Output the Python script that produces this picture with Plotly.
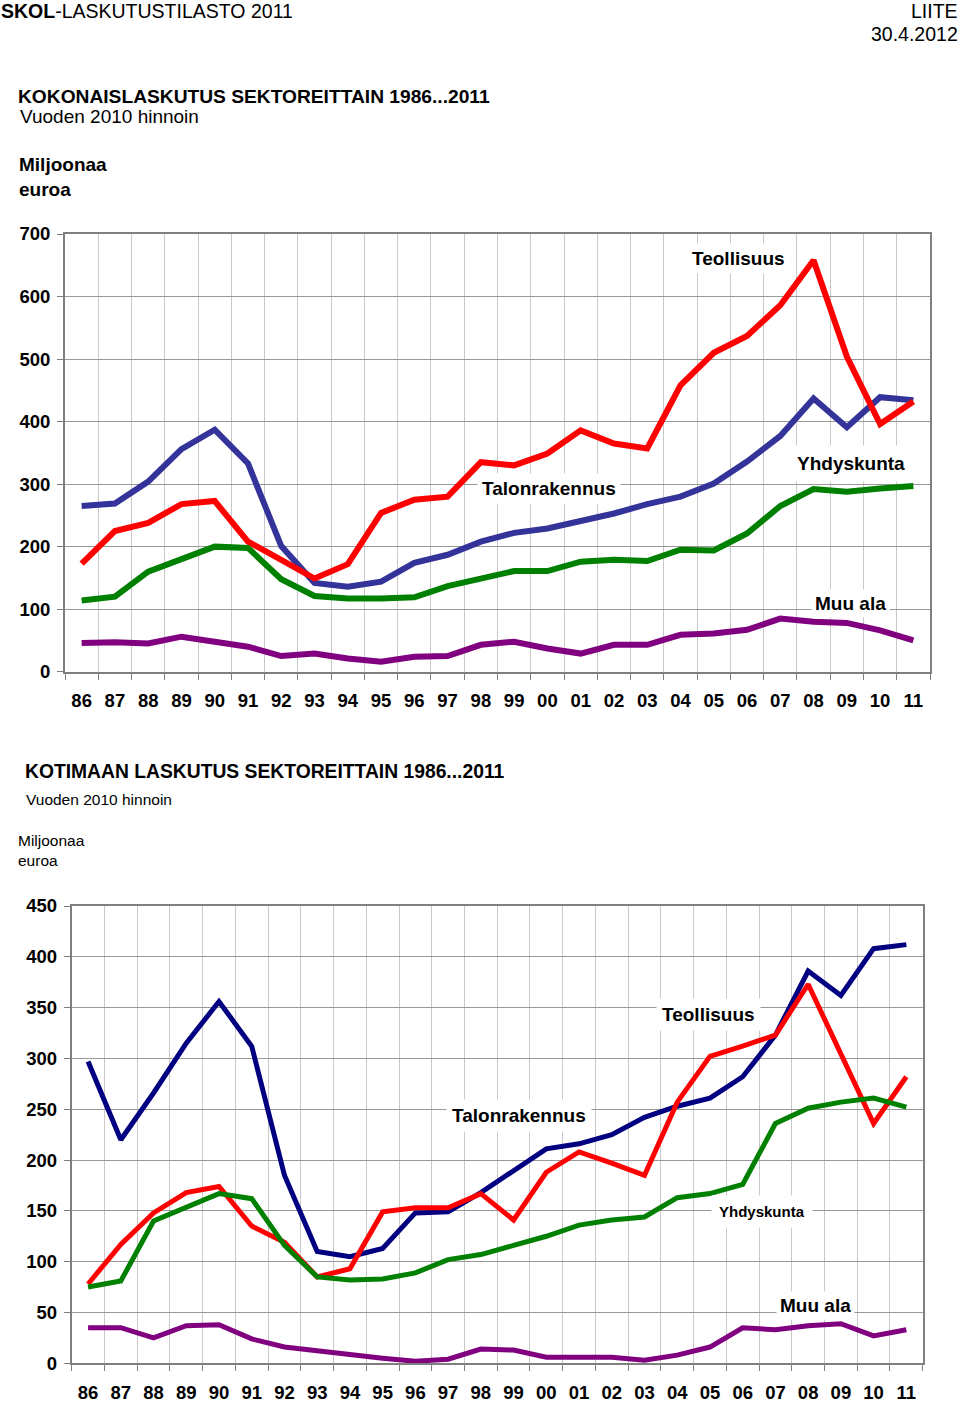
import plotly.graph_objects as go

years = ["86", "87", "88", "89", "90", "91", "92", "93", "94", "95", "96", "97", "98",
         "99", "00", "01", "02", "03", "04", "05", "06", "07", "08", "09", "10", "11"]

# Kokonaislaskutus (total)
tot_talon = [265, 269, 304, 356, 387, 333, 201, 142, 136, 144, 174, 187, 208,
             222, 229, 240, 253, 268, 280, 301, 336, 377, 437, 391, 439, 434]
tot_teoll = [173, 225, 238, 268, 273, 208, 179, 149, 172, 254, 275, 280, 335,
             330, 349, 386, 365, 357, 458, 510, 537, 586, 658, 504, 396, 432]
tot_yhdys = [114, 120, 160, 180, 200, 198, 148, 121, 117, 117, 119, 137, 149,
             161, 161, 176, 179, 177, 195, 194, 221, 265, 292, 288, 293, 297]
tot_muu = [46, 47, 45, 56, 48, 40, 25, 29, 21, 16, 24, 25, 43,
           48, 37, 29, 43, 43, 59, 61, 67, 85, 80, 78, 66, 50]

# Kotimaan laskutus (domestic)
dom_talon = [297, 220, 266, 315, 356, 312, 185, 110, 105, 113, 148, 149, 168,
             190, 211, 216, 225, 242, 253, 261, 282, 323, 386, 362, 408, 412]
dom_teoll = [78, 117, 148, 168, 174, 135, 119, 85, 93, 149, 153, 153, 167,
             141, 188, 208, 197, 185, 257, 302, 312, 323, 373, 305, 236, 282]
dom_yhdys = [75, 81, 140, 153, 167, 162, 116, 85, 82, 83, 89, 102, 107,
             116, 125, 136, 141, 144, 163, 167, 176, 236, 251, 257, 261, 252]
dom_muu = [35, 35, 25, 37, 38, 24, 16, 12, 8, 5, 2, 4, 14,
           13, 6, 6, 6, 3, 8, 16, 35, 33, 37, 39, 27, 33]

top_ticks = [0, 100, 200, 300, 400, 500, 600, 700]
bot_ticks = [0, 50, 100, 150, 200, 250, 300, 350, 400, 450]

W, H = 960, 1402
FONT = "Liberation Sans, Arial, sans-serif"


def px(x):
    return x / W


def py(y):
    return 1 - y / H


fig = go.Figure()

top_series = [(tot_talon, "#333399", "Talonrakennus"), (tot_teoll, "#FF0000", "Teollisuus"),
              (tot_yhdys, "#008000", "Yhdyskunta"), (tot_muu, "#800080", "Muu ala")]
bot_series = [(dom_talon, "#000080", "Talonrakennus"), (dom_teoll, "#FF0000", "Teollisuus"),
              (dom_yhdys, "#008000", "Yhdyskunta"), (dom_muu, "#800080", "Muu ala")]

for vals, col, name in top_series:
    fig.add_trace(go.Scatter(x=years, y=vals, mode="lines", name=name,
                             line=dict(color=col, width=6), xaxis="x", yaxis="y"))
for vals, col, name in bot_series:
    fig.add_trace(go.Scatter(x=years, y=vals, mode="lines", name=name,
                             line=dict(color=col, width=5), xaxis="x2", yaxis="y2"))

xcommon = dict(type="category", tickson="boundaries", showgrid=True, gridcolor="#c8c8c8",
               gridwidth=1, showline=True, linecolor="#808080", linewidth=2, mirror=True,
               ticks="outside", ticklen=6, tickcolor="#808080", automargin=False,
               range=[-0.5, len(years) - 0.5],
               tickfont=dict(family=FONT, size=18.5, color="black", weight="bold"),
               ticklabelstandoff=11, fixedrange=True)
ycommon = dict(showgrid=True, gridcolor="#999999", gridwidth=1, showline=True,
               linecolor="#808080", linewidth=2, mirror=True, ticks="outside", ticklen=6,
               tickcolor="#808080", zeroline=False, automargin=False,
               tickfont=dict(family=FONT, size=18.5, color="black", weight="bold"),
               ticklabelstandoff=3, fixedrange=True)

fig.update_layout(
    template="none",
    width=W, height=H, margin=dict(l=0, r=0, t=0, b=0, pad=0, autoexpand=False),
    paper_bgcolor="white", plot_bgcolor="white", showlegend=False,
    xaxis=dict(xcommon, domain=[px(65), px(930)], anchor="y"),
    yaxis=dict(ycommon, domain=[py(671.7), py(234)], range=[0, 700], tickvals=top_ticks,
               anchor="x"),
    xaxis2=dict(xcommon, domain=[px(71.7), px(922.7)], anchor="y2"),
    yaxis2=dict(ycommon, domain=[py(1363.3), py(906)], range=[0, 450], tickvals=bot_ticks,
                anchor="x2"),
)


def text(x, y, s, size, xanchor="left", bold=False, bg=None, pad=1):
    fig.add_annotation(xref="paper", yref="paper", x=px(x), y=py(y), text=s,
                       showarrow=False, xanchor=xanchor, yanchor="middle",
                       font=dict(family=FONT, size=size, color="black",
                                 weight="bold" if bold else "normal"),
                       bgcolor=bg, borderpad=pad)


# header
text(-1, 11, "<b>SKOL</b>-LASKUTUSTILASTO 2011", 19.5)
text(960, 11, "LIITE", 19.5, xanchor="right")
text(960, 34, "30.4.2012", 19.5, xanchor="right")

# top chart titles
text(16, 96, "KOKONAISLASKUTUS SEKTOREITTAIN 1986...2011", 19.2, bold=True)
text(18, 116, "Vuoden 2010 hinnoin", 19)
text(17, 165, "Miljoonaa", 19, bold=True)
text(17, 190, "euroa", 19, bold=True)

# top series labels
text(738, 258, "Teollisuus", 19, xanchor="center", bold=True, bg="white", pad=4)
text(549, 488, "Talonrakennus", 19, xanchor="center", bold=True, bg="white", pad=4)
text(851, 463, "Yhdyskunta", 19, xanchor="center", bold=True, bg="white", pad=7)
text(850, 603, "Muu ala", 19, xanchor="center", bold=True, bg="white", pad=3)

# bottom chart titles
text(23, 771, "KOTIMAAN LASKUTUS SEKTOREITTAIN 1986...2011", 19.3, bold=True)
text(24, 799, "Vuoden 2010 hinnoin", 15.5)
text(16, 840, "Miljoonaa", 15.5)
text(16, 860, "euroa", 15.5)

# bottom series labels
text(708, 1015, "Teollisuus", 19, xanchor="center", bold=True, bg="white", pad=5)
text(519, 1115, "Talonrakennus", 19, xanchor="center", bold=True, bg="white", pad=5)
text(762, 1211, "Yhdyskunta", 15, xanchor="center", bold=True, bg="white", pad=7)
text(815, 1305, "Muu ala", 19, xanchor="center", bold=True, bg="white", pad=3)

fig.write_html("out.html", config={"displayModeBar": False},
               post_script="document.body.style.margin='0px';"
                           "document.body.style.overflow='hidden';")
